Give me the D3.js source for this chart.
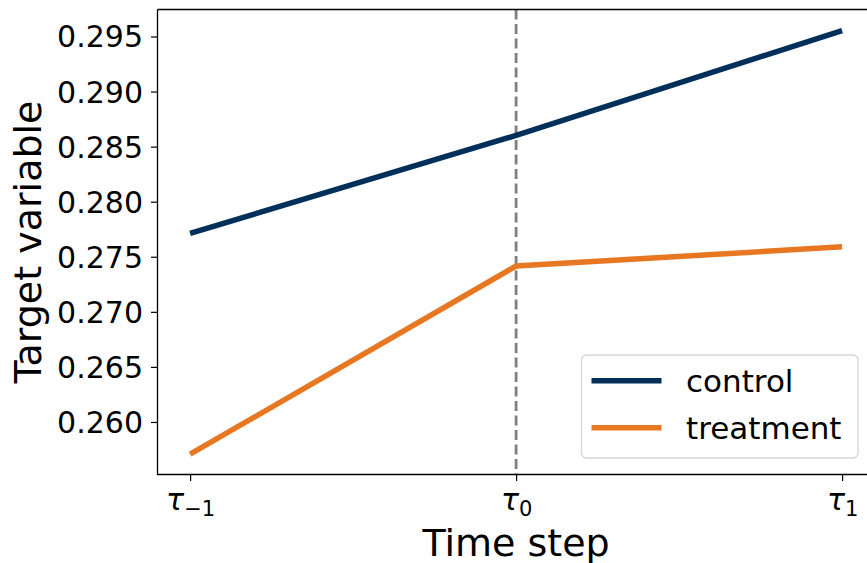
<!DOCTYPE html>
<html><head><meta charset="utf-8">
<script src="https://cdn.jsdelivr.net/npm/d3@7"></script>
<style>body{margin:0;background:#fff}svg{display:block}text{font-family:"DejaVu Sans",sans-serif}</style>
</head><body>
<svg id="c" width="867" height="563"></svg>
<script>
const steps = [-1, 0, 1];
const stepSubs = ["\u22121", "0", "1"];
const control = [0.27712, 0.28602, 0.29554];
const treatment = [0.25707, 0.27416, 0.27590];
const yTicks = [0.260, 0.265, 0.270, 0.275, 0.280, 0.285, 0.290, 0.295];
const seriesNames = ["control", "treatment"];
const seriesColors = ["#00305a", "#e87722"];

const svg = d3.select("#c");
const L = 157.5, R = 874.7, T = 9.5, B = 474.5;
const x = d3.scaleLinear().domain([-1.1, 1.1]).range([L, R]);
const y = d3.scaleLinear().domain([0.25523, 0.29745]).range([B, T]);

// y axis
const ya = svg.append("g").attr("transform", `translate(${L},0)`)
  .call(d3.axisLeft(y).tickValues(yTicks).tickFormat(d3.format(".3f")).tickSize(6.5).tickPadding(8));
ya.select(".domain").remove();
ya.selectAll("line").attr("stroke", "#000").attr("stroke-width", 1.2);
ya.selectAll("text").attr("font-size", 30).attr("fill", "#000").attr("dy", "0.35em");

// x axis
const xa = svg.append("g").attr("transform", `translate(0,${B})`)
  .call(d3.axisBottom(x).tickValues(steps).tickFormat("").tickSize(6.5));
xa.select(".domain").remove();
xa.selectAll("line").attr("stroke", "#000").attr("stroke-width", 1.2);
xa.selectAll(".tick").each(function(d, i) {
  const t = d3.select(this).append("text").attr("y", 35).attr("text-anchor", "middle").attr("fill", "#000");
  t.append("tspan").attr("font-size", 30).attr("font-style", "italic").text("\u03c4");
  t.append("tspan").attr("font-size", 21).attr("dy", 6).text(stepSubs[i]);
});

// vertical dashed line
svg.append("line").attr("x1", x(0)).attr("x2", x(0)).attr("y1", T).attr("y2", B)
  .attr("stroke", "#808080").attr("stroke-width", 2.8).attr("stroke-dasharray", "10,4.5");

// lines
const line = d3.line().x((d, i) => x(steps[i])).y(d => y(d));
[control, treatment].forEach((s, k) => {
  svg.append("path").datum(s).attr("d", line).attr("fill", "none")
    .attr("stroke", seriesColors[k]).attr("stroke-width", 5.5).attr("stroke-linecap", "butt");
});

// spines
svg.append("path").attr("d", `M${L},${T}H${R}M${L},${T}V${B}H${R}`)
  .attr("fill", "none").attr("stroke", "#000").attr("stroke-width", 1.3);

// legend
const lg = svg.append("g");
lg.append("rect").attr("x", 581.5).attr("y", 355).attr("width", 276.5).attr("height", 103)
  .attr("rx", 5).attr("fill", "#fff").attr("fill-opacity", 0.8).attr("stroke", "#d6d6d6").attr("stroke-width", 1.3);
seriesNames.forEach((n, k) => {
  const yy = 380.7 + k * 47;
  lg.append("line").attr("x1", 591.5).attr("x2", 661.5).attr("y1", yy).attr("y2", yy)
    .attr("stroke", seriesColors[k]).attr("stroke-width", 5.5);
  lg.append("text").attr("x", 686).attr("y", yy + 11).attr("font-size", 31).attr("fill", "#000").text(n);
});

// axis labels
svg.append("text").attr("x", (L + R) / 2).attr("y", 556).attr("text-anchor", "middle")
  .attr("font-size", 38).attr("fill", "#000").text("Time step");
svg.append("text").attr("transform", `translate(41,${(T + B) / 2}) rotate(-90)`).attr("text-anchor", "middle")
  .attr("font-size", 38).attr("fill", "#000").text("Target variable");
</script>
</body></html>
